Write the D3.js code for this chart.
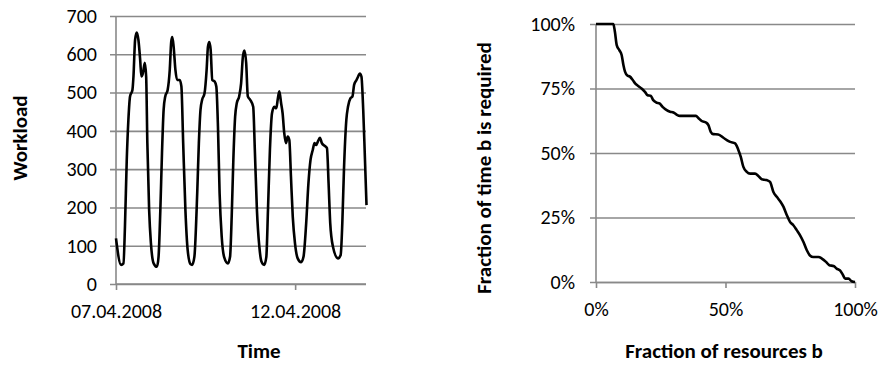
<!DOCTYPE html>
<html>
<head>
<meta charset="utf-8">
<script src="https://cdn.jsdelivr.net/npm/d3@7"></script>
<style>
  html, body { margin: 0; padding: 0; background: #fff; }
  svg text { font-family: Carlito, Calibri, Lato, sans-serif; fill: #000; }
</style>
</head>
<body>
<svg id="chart" width="880" height="365"></svg>
<script>
// ---- Workload over one week (hours since 07.04.2008 00:00) ----
const workloadHours = [
  0, 3.4, 5, 6, 7.2, 8.3, 9.4, 11, 11.7, 12.8, 13.9, 15, 16.2, 17, 18, 19.3, 20.2, 21, 22.2, 23.4,
  25.2, 27.4, 28.5, 29.7, 30.8, 31.9, 33, 34.6, 36, 37, 37.7, 38.6, 39.8, 40.9, 42.7, 43.8, 45, 46.5, 48,
  49.9, 51, 52.5, 54.4, 55.5, 56.6, 57.7, 59.3, 60.7, 61.6, 62.5, 63.4, 64.5, 66.1, 67.2, 68.3, 69.4, 70.8,
  72.4, 75, 76.4, 77.5, 78.6, 79.8, 80.9, 82.5, 83.8, 85, 86, 87.2, 88.3, 89.9, 91.9, 93, 94.4,
  96, 97.5, 99.3, 100.7, 101.8, 103.1, 104.5, 106, 107.4, 108.3, 109.4, 110.6, 111.6, 112.7, 113.9, 115, 116.1, 117.2, 118.4, 119.9,
  121.7, 124, 125.6, 127.4, 128.9, 130.3, 131.8, 133, 134.1, 135.2, 136.6, 137.9, 139.7, 141.3, 142.4, 143.5,
  145.3, 148.7, 150.5, 151.6, 152.7, 154.3, 155.4, 157, 158.4, 159.5, 161.1, 162.2, 163.3, 164.4, 165.6, 166.7, 167.8
];
const workloadValues = [
  119, 50, 54, 150, 324, 429, 490, 507, 542, 638, 657, 638, 585, 542, 550, 578, 542, 368, 193, 106,
  54, 45, 71, 193, 341, 455, 490, 507, 559, 633, 645, 620, 559, 533, 533, 516, 368, 193, 89,
  52, 50, 71, 237, 368, 455, 481, 498, 559, 620, 632, 612, 533, 529, 516, 411, 237, 124,
  71, 54, 71, 176, 324, 437, 472, 490, 524, 594, 610, 577, 490, 481, 463, 350, 193,
  98, 58, 50, 71, 193, 350, 446, 463, 459, 481, 503, 472, 446, 394, 368, 385, 376, 280, 176, 106,
  67, 57, 71, 159, 263, 324, 350, 368, 363, 372, 382, 368, 361, 355, 263, 159,
  98, 67, 76, 159, 298, 429, 463, 485, 490, 520, 533, 542, 550, 542, 455, 333, 206
];
const workloadTicks = [0, 100, 200, 300, 400, 500, 600, 700];
const dateTickLabels = ["07.04.2008", "12.04.2008"];
const weekStart = "07.04.2008";
const weekEnd = "14.04.2008";

// ---- Resource duration curve (both in percent) ----
const resourceFraction = [
  0, 6.7, 7.3, 8, 9, 9.9, 10.6, 11.2, 12.1, 13.1, 14.2, 15.1, 16.3, 17.6, 18.9, 19.9, 21.1, 22.1, 23.2,
  24.5, 25.7, 27.3, 28.6, 29.9, 31.1, 32.4, 38.6, 39.5, 40.8, 42.5, 43.4, 44.3, 45.3, 47.2, 49.2, 50.5,
  51.8, 53.7, 55, 55.9, 56.9, 58.2, 59.5, 61.4, 62.7, 64, 65.9, 67.2, 68.5, 69.8, 71.1, 72.4, 73.6, 74.9,
  76.2, 77.5, 78.8, 80.1, 81.4, 82.6, 83.9, 85.9, 87.2, 88.8, 90.1, 91.7, 92.9, 94.2, 95.3, 96.2, 97.5, 98.7, 100
];
const timeRequired = [
  100, 100, 97, 91.8, 89.9, 88, 84, 81.5, 80, 79.6, 78.3, 77, 76, 75, 73.7, 72.4, 72.2, 70.5, 69.6,
  69.2, 67.9, 66.6, 66, 65.7, 64.9, 64.4, 64.4, 63.6, 62.4, 61.8, 60.8, 58.2, 57.3, 57.2, 55.9, 55,
  54.3, 53.7, 51.1, 48.5, 44.6, 42.7, 42, 42, 41.1, 39.8, 39.5, 38.8, 34.9, 33, 31.3, 29.1, 26.1, 23.3,
  22, 20.1, 18.1, 15.5, 12.3, 10.3, 9.7, 9.7, 9.1, 7.8, 6.5, 6.2, 5.2, 4.5, 2.8, 1.3, 1.3, 0.3, 0
];
const percentTicksY = [0, 25, 50, 75, 100];
const percentTicksX = [0, 50, 100];

// ---- shared styling ----
const gridColor = "#898989";
const gridWidth = 1.6;
const fontSize = 20;
const titleSize = 21;

const svg = d3.select("#chart");
const parseDay = d3.utcParse("%d.%m.%Y");
const fmtDay = d3.utcFormat("%d.%m.%Y");

function styleAxis(g) {
  g.selectAll("line").attr("stroke", gridColor).attr("stroke-width", gridWidth);
  g.selectAll("path.domain").attr("stroke", gridColor).attr("stroke-width", gridWidth);
  g.selectAll("text").attr("font-size", fontSize).attr("fill", "#000");
}

// ================= Left chart: workload over time =================
{
  const left = 116, right = 366, top = 16, bottom = 284;
  const t0 = parseDay(weekStart), t1 = parseDay(weekEnd);
  const x = d3.scaleUtc().domain([t0, t1]).range([left, right + 0.8]);
  const y = d3.scaleLinear().domain([0, 700]).range([bottom, top]);

  // horizontal gridlines with outside tick stubs
  const gy = svg.append("g").attr("transform", `translate(${left},0)`)
    .call(d3.axisLeft(y).tickValues(workloadTicks).tickSize(-(right - left)).tickSizeOuter(0).tickPadding(19));
  gy.select(".domain").remove();
  gy.selectAll(".tick line").attr("x1", -6);
  styleAxis(gy);

  // vertical axis line
  svg.append("line").attr("x1", left).attr("x2", left).attr("y1", top).attr("y2", bottom)
    .attr("stroke", gridColor).attr("stroke-width", gridWidth);

  // date axis
  const gx = svg.append("g").attr("transform", `translate(0,${bottom})`)
    .call(d3.axisBottom(x).tickValues(dateTickLabels.map(parseDay)).tickFormat(fmtDay)
      .tickSize(6).tickSizeOuter(0));
  gx.select(".domain").attr("d", `M${left},0H${right}`);
  styleAxis(gx);
  gx.selectAll(".tick text").attr("y", 34).attr("dy", 0);

  const line = d3.line()
    .x((d, i) => x(new Date(t0.getTime() + workloadHours[i] * 3600e3)))
    .y(d => y(d))
    .curve(d3.curveMonotoneX);
  svg.append("path").datum(workloadValues)
    .attr("d", line).attr("fill", "none").attr("stroke", "#000")
    .attr("stroke-width", 2.6).attr("stroke-linejoin", "round");

  svg.append("text").attr("x", 259).attr("y", 358).attr("text-anchor", "middle")
    .attr("font-size", titleSize).attr("font-weight", "bold").text("Time");
  svg.append("text").attr("transform", "translate(27,138) rotate(-90)")
    .attr("text-anchor", "middle").attr("font-size", titleSize).attr("font-weight", "bold").text("Workload");
}

// ================= Right chart: duration curve =================
{
  const left = 596, right = 855, top = 24, bottom = 282;
  const x = d3.scaleLinear().domain([0, 100]).range([left, right]);
  const y = d3.scaleLinear().domain([0, 100]).range([bottom, top]);
  const pct = d => d + "%";

  const gy = svg.append("g").attr("transform", `translate(${left},0)`)
    .call(d3.axisLeft(y).tickValues(percentTicksY).tickFormat(pct)
      .tickSize(-(right - left)).tickSizeOuter(0).tickPadding(21));
  gy.select(".domain").remove();
  gy.selectAll(".tick line").attr("x1", -6);
  styleAxis(gy);

  svg.append("line").attr("x1", left).attr("x2", left).attr("y1", top).attr("y2", bottom)
    .attr("stroke", gridColor).attr("stroke-width", gridWidth);

  const gx = svg.append("g").attr("transform", `translate(0,${bottom})`)
    .call(d3.axisBottom(x).tickValues(percentTicksX).tickFormat(pct).tickSize(6).tickSizeOuter(0));
  styleAxis(gx);
  gx.selectAll(".tick text").attr("y", 34).attr("dy", 0);

  const line = d3.line()
    .x((d, i) => x(resourceFraction[i]))
    .y(d => y(d))
    .curve(d3.curveMonotoneX);
  svg.append("path").datum(timeRequired)
    .attr("d", line).attr("fill", "none").attr("stroke", "#000")
    .attr("stroke-width", 2.6).attr("stroke-linejoin", "round");

  svg.append("text").attr("x", 724).attr("y", 358).attr("text-anchor", "middle")
    .attr("font-size", titleSize).attr("font-weight", "bold").text("Fraction of resources b");
  svg.append("text").attr("transform", "translate(491,168) rotate(-90)")
    .attr("text-anchor", "middle").attr("font-size", titleSize).attr("font-weight", "bold")
    .text("Fraction of time b is required");
}
</script>
</body>
</html>
